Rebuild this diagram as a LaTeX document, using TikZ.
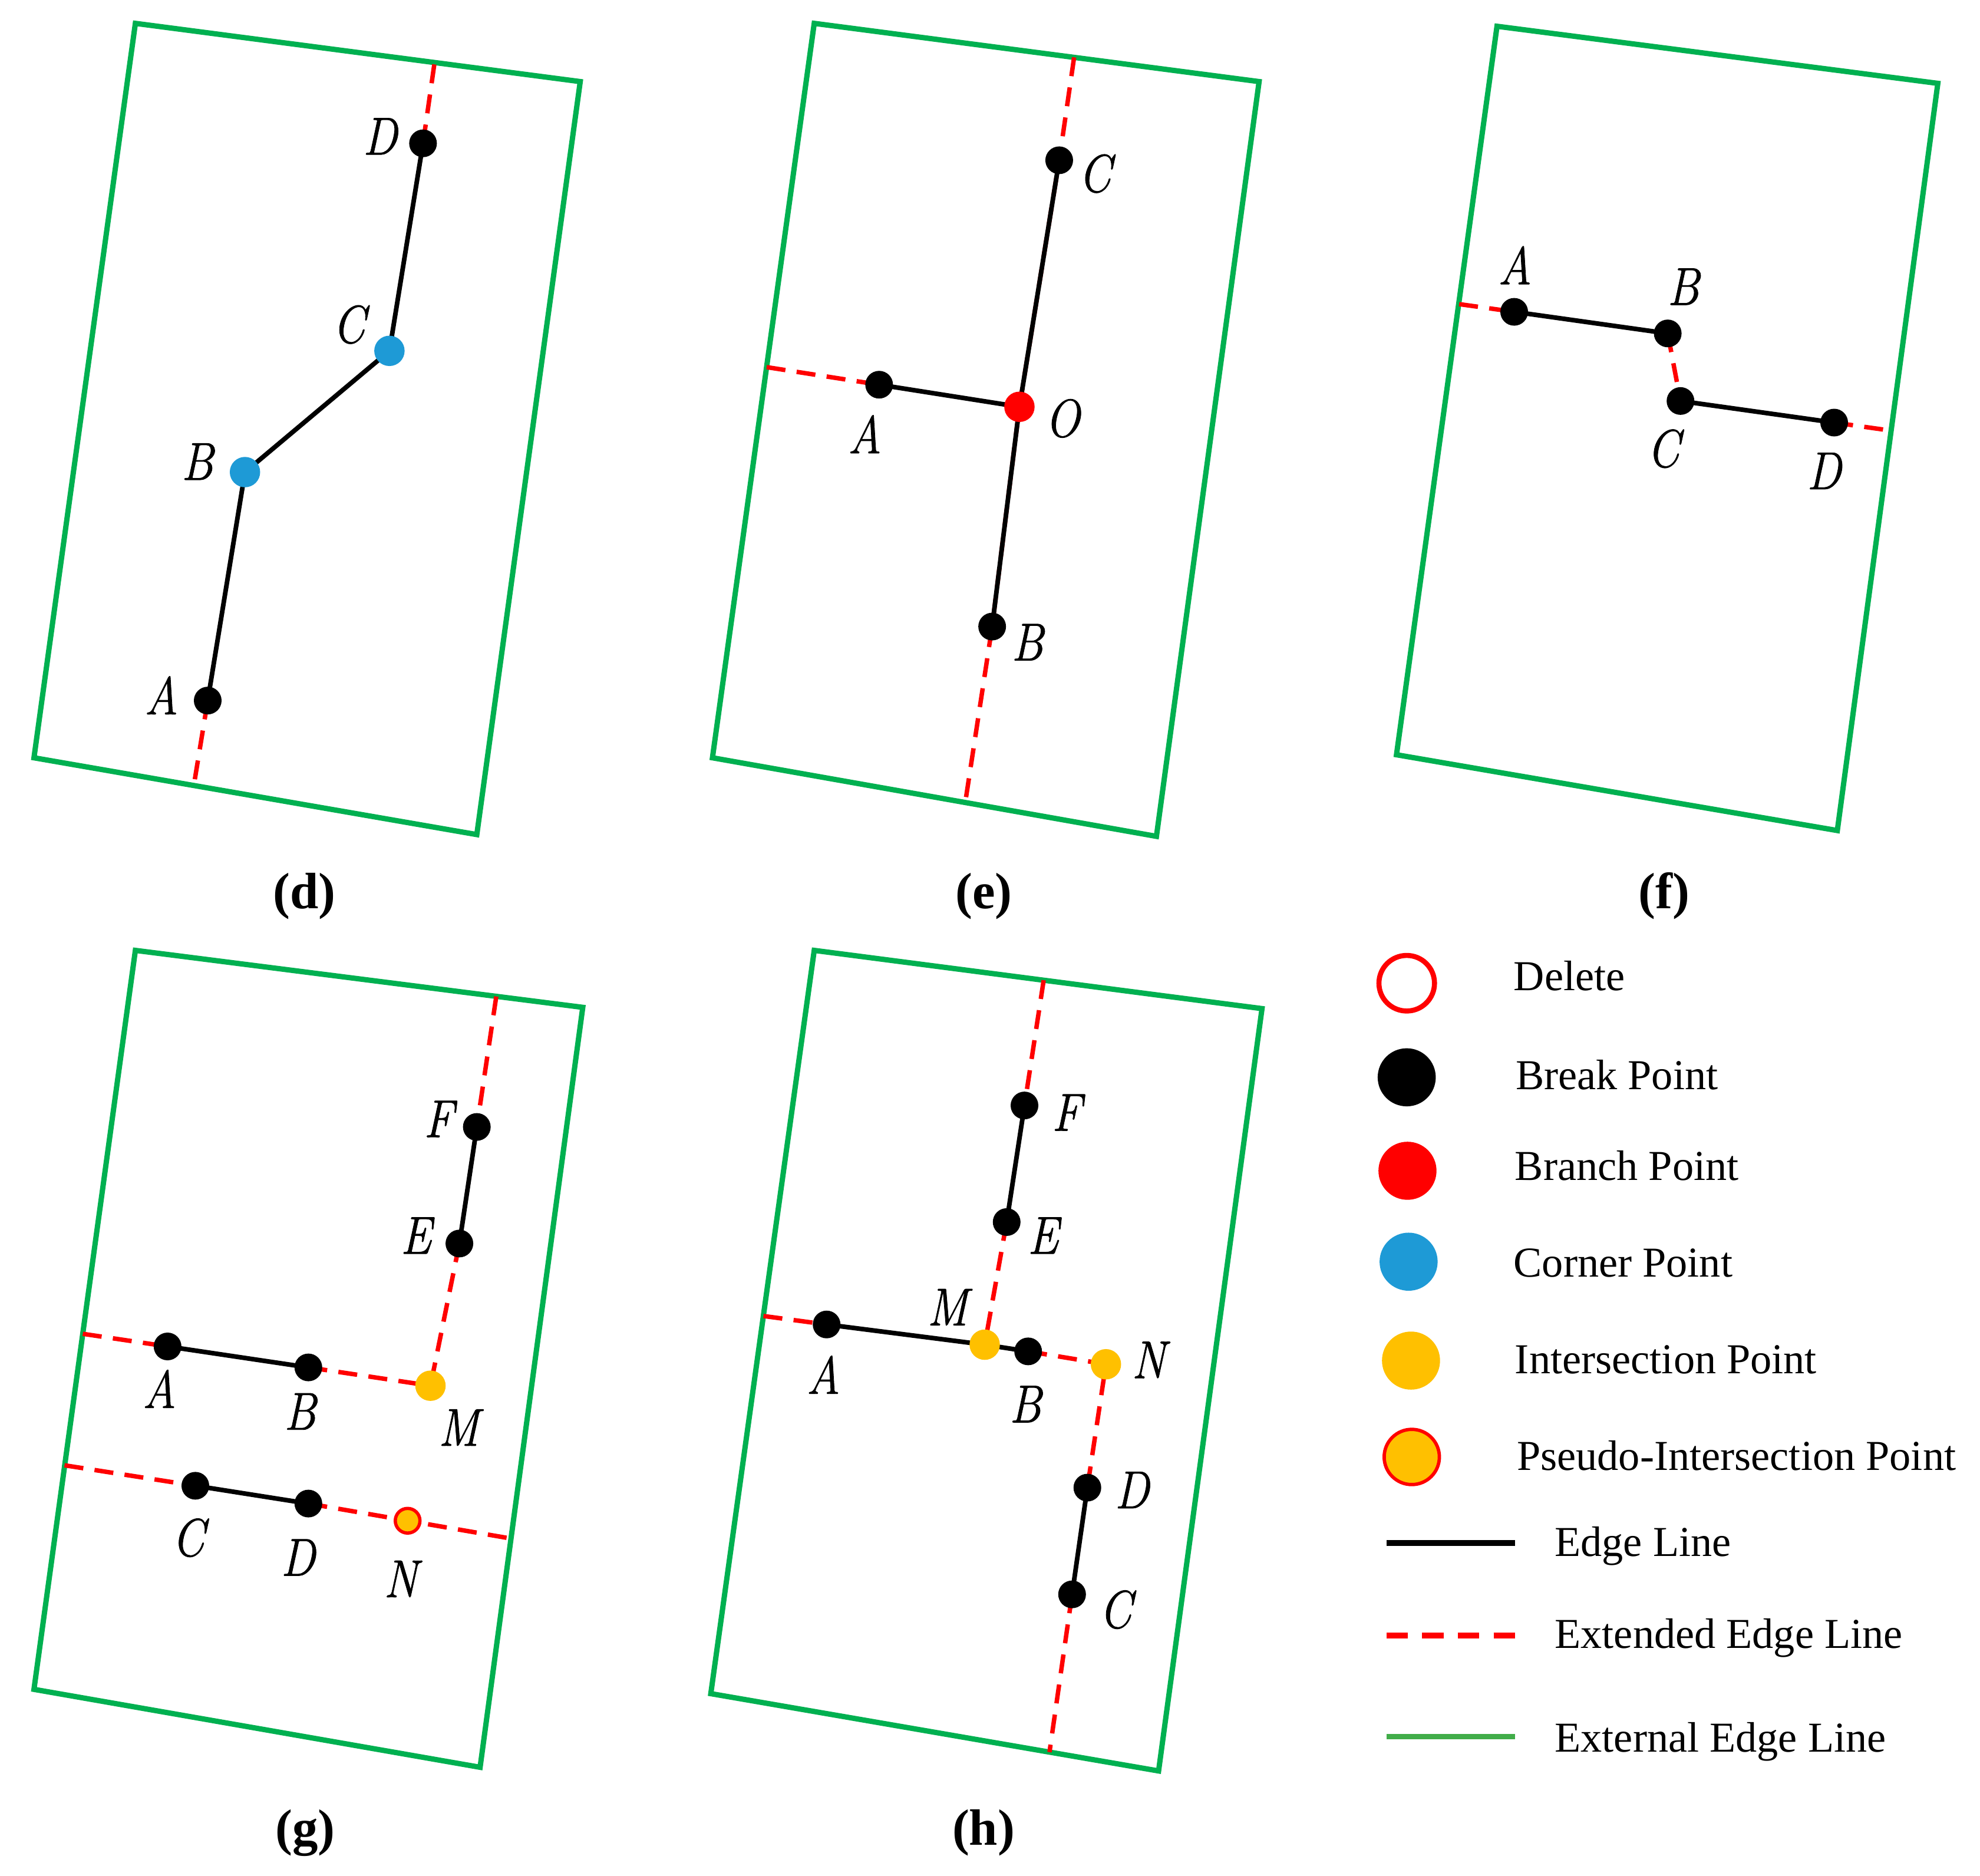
\documentclass[tikz,border=0pt]{standalone}
\usepackage{fontspec}
\setmainfont{Liberation Serif}
\newfontfamily\lblfam[FakeBold=1]{Latin Modern Roman}
\definecolor{fgreen}{HTML}{00B050}
\definecolor{lgreen}{HTML}{41AD49}
\definecolor{cblue}{HTML}{1E9AD6}
\definecolor{cyellow}{HTML}{FFC000}
\newcommand\mylbl[1]{\scalebox{0.87}[1]{\lblfam\itshape #1}}
\tikzset{
  frame/.style={draw=fgreen, line width=3pt, line join=miter},
  edgeln/.style={draw=black, line width=2.6pt},
  extln/.style={draw=red, line width=2.5pt, dash pattern=on 10.7pt off 6.4pt},
  brk/.style={circle, fill=black, minimum size=15.6pt, inner sep=0pt},
  brn/.style={circle, fill=red, minimum size=17.1pt, inner sep=0pt},
  crn/.style={circle, fill=cblue, minimum size=17.1pt, inner sep=0pt},
  isec/.style={circle, fill=cyellow, minimum size=17.1pt, inner sep=0pt},
  psd/.style={circle, fill=cyellow, draw=red, line width=1.85pt, minimum size=13.9pt, inner sep=0pt},
  lbl/.style={inner sep=0pt, font=\fontsize{30}{30}\selectfont},
  captxt/.style={inner sep=0pt, anchor=base, font=\fontsize{28.8}{30}\selectfont\bfseries},
  legtxt/.style={inner sep=0pt, anchor=base west, font=\fontsize{24}{28}\selectfont},
  legdot/.style={circle, minimum size=32.7pt, inner sep=0pt},
  legln/.style={line width=3.1pt},
}
\begin{document}
\begin{tikzpicture}[x=0.25mm,y=-0.25mm]
\useasboundingbox (0,0) rectangle (1568,1485);

% ================= panel (d) =================
\coordinate (dTL) at (107.2,18.5);
\coordinate (dTR) at (459.5,64.6);
\coordinate (dBR) at (377.6,660.8);
\coordinate (dBL) at (26.9,600);
\coordinate (dA) at (164.5,554.7);
\coordinate (dB) at (194,373.8);
\coordinate (dC) at (308.4,277.8);
\coordinate (dD) at (335,113.5);
\coordinate (dtop) at (344.1,49.8);
\coordinate (dbot) at (153.4,622.5);
\draw[frame] (dTL) -- (dTR) -- (dBR) -- (dBL) -- cycle;
\draw[extln] (dD) -- (dtop);
\draw[extln] (dA) -- (dbot);
\draw[edgeln] (dA) -- (dB) -- (dC) -- (dD);
\node[brk] (dAn) at (dA) {};
\node[crn] (dBn) at (dB) {};
\node[crn] (dCn) at (dC) {};
\node[brk] (dDn) at (dD) {};
\node[lbl] (dAl) at (127.8,550.5) {\mylbl{A}};
\node[lbl] (dBl) at (156.3,365.5) {\mylbl{B}};
\node[lbl] (dCl) at (276.3,257) {\mylbl{C}};
\node[lbl] (dDl) at (301,108) {\mylbl{D}};
\node[captxt] (dcap) at (241,719.4) {(d)};

% ================= panel (e) =================
\coordinate (eTL) at (644.8,18.5);
\coordinate (eTR) at (997.1,64.6);
\coordinate (eBR) at (915.8,662.2);
\coordinate (eBL) at (564.2,600);
\coordinate (eC) at (838.8,126.9);
\coordinate (eO) at (807.3,322.1);
\coordinate (eA) at (696.2,304.6);
\coordinate (eB) at (785.7,496.1);
\coordinate (etop) at (850.6,45.4);
\coordinate (eleft) at (607.1,290.7);
\coordinate (ebot) at (764.4,635.4);
\draw[frame] (eTL) -- (eTR) -- (eBR) -- (eBL) -- cycle;
\draw[extln] (etop) -- (eC) -- (eO) -- (eB) -- (ebot);
\draw[extln] (eleft) -- (eA);
\draw[edgeln] (eC) -- (eO) -- (eB);
\draw[edgeln] (eA) -- (eO);
\node[brk] (eCn) at (eC) {};
\node[brn] (eOn) at (eO) {};
\node[brk] (eAn) at (eA) {};
\node[brk] (eBn) at (eB) {};
\node[lbl] (eCl) at (867,137.5) {\mylbl{C}};
\node[lbl] (eOl) at (841.4,331.3) {\mylbl{O}};
\node[lbl] (eAl) at (684.8,343.8) {\mylbl{A}};
\node[lbl] (eBl) at (813.6,508.5) {\mylbl{B}};
\node[captxt] (ecap) at (779,719.4) {(e)};

% ================= panel (f) =================
\coordinate (fTL) at (1185.5,20.8);
\coordinate (fTR) at (1534.6,66);
\coordinate (fBR) at (1455,657.6);
\coordinate (fBL) at (1105.9,597.6);
\coordinate (fA) at (1199.1,246.9);
\coordinate (fB) at (1320.7,264);
\coordinate (fC) at (1330.8,317.5);
\coordinate (fD) at (1452.5,334.6);
\coordinate (fleft) at (1155.5,240.8);
\coordinate (fright) at (1497.7,341);
\draw[frame] (fTL) -- (fTR) -- (fBR) -- (fBL) -- cycle;
\draw[extln] (fleft) -- (fA);
\draw[extln] (fB) -- (fC);
\draw[extln] (fD) -- (fright);
\draw[edgeln] (fA) -- (fB);
\draw[edgeln] (fC) -- (fD);
\node[brk] (fAn) at (fA) {};
\node[brk] (fBn) at (fB) {};
\node[brk] (fCn) at (fC) {};
\node[brk] (fDn) at (fD) {};
\node[lbl] (fAl) at (1199.7,210) {\mylbl{A}};
\node[lbl] (fBl) at (1333,227) {\mylbl{B}};
\node[lbl] (fCl) at (1317.2,355.3) {\mylbl{C}};
\node[lbl] (fDl) at (1444.5,372.9) {\mylbl{D}};
\node[captxt] (fcap) at (1318,719.4) {(f)};

% ================= panel (g) =================
\coordinate (gTL) at (107.2,752.5);
\coordinate (gTR) at (461.5,797.6);
\coordinate (gBR) at (380.2,1399.3);
\coordinate (gBL) at (26.9,1337.6);
\coordinate (gF) at (377.6,892.3);
\coordinate (gE) at (363.8,984.6);
\coordinate (gA) at (132.7,1066.1);
\coordinate (gB) at (244.2,1082.7);
\coordinate (gM) at (340.9,1097.2);
\coordinate (gC) at (154.7,1176.4);
\coordinate (gD) at (244.2,1190.5);
\coordinate (gN) at (322.8,1204.1);
\coordinate (gtop) at (393,789);
\coordinate (gAleft) at (65.6,1056.1);
\coordinate (gCleft) at (51.1,1160.2);
\coordinate (gright) at (404.7,1218.2);
\draw[frame] (gTL) -- (gTR) -- (gBR) -- (gBL) -- cycle;
\draw[extln] (gtop) -- (gF);
\draw[extln] (gE) -- (gM);
\draw[extln] (gAleft) -- (gA);
\draw[extln] (gB) -- (gM);
\draw[extln] (gCleft) -- (gC);
\draw[extln] (gD) -- (gN) -- (gright);
\draw[edgeln] (gF) -- (gE);
\draw[edgeln] (gA) -- (gB);
\draw[edgeln] (gC) -- (gD);
\node[brk] (gFn) at (gF) {};
\node[brk] (gEn) at (gE) {};
\node[brk] (gAn) at (gA) {};
\node[brk] (gBn) at (gB) {};
\node[isec] (gMn) at (gM) {};
\node[brk] (gCn) at (gC) {};
\node[brk] (gDn) at (gD) {};
\node[psd] (gNn) at (gN) {};
\node[lbl] (gFl) at (347.4,886) {\mylbl{F}};
\node[lbl] (gEl) at (329.4,978.3) {\mylbl{E}};
\node[lbl] (gAl) at (126.2,1099.7) {\mylbl{A}};
\node[lbl] (gBl) at (237.6,1117.6) {\mylbl{B}};
\node[lbl] (gMl) at (363.2,1130.3) {\mylbl{M}};
\node[lbl] (gCl) at (149.1,1217.6) {\mylbl{C}};
\node[lbl] (gDl) at (236,1233.2) {\mylbl{D}};
\node[lbl] (gNl) at (317.3,1250.2) {\mylbl{N}};
\node[captxt] (gcap) at (241.7,1461) {(g)};

% ================= panel (h) =================
\coordinate (hTL) at (644.8,752.5);
\coordinate (hTR) at (999.4,798.6);
\coordinate (hBR) at (917.5,1402.2);
\coordinate (hBL) at (562.9,1341);
\coordinate (hF) at (811.3,875.3);
\coordinate (hE) at (797.2,967.6);
\coordinate (hA) at (654.6,1048.7);
\coordinate (hM) at (779.8,1064.7);
\coordinate (hB) at (814.2,1070);
\coordinate (hN) at (875.8,1080.2);
\coordinate (hD) at (861.1,1177.9);
\coordinate (hC) at (849,1262.4);
\coordinate (htop) at (826.5,776.1);
\coordinate (hAleft) at (604.6,1042);
\coordinate (hbot) at (831.1,1387.3);
\draw[frame] (hTL) -- (hTR) -- (hBR) -- (hBL) -- cycle;
\draw[extln] (htop) -- (hF);
\draw[extln] (hE) -- (hM);
\draw[extln] (hAleft) -- (hA);
\draw[extln] (hB) -- (hN) -- (hD);
\draw[extln] (hC) -- (hbot);
\draw[edgeln] (hF) -- (hE);
\draw[edgeln] (hA) -- (hM) -- (hB);
\draw[edgeln] (hD) -- (hC);
\node[brk] (hFn) at (hF) {};
\node[brk] (hEn) at (hE) {};
\node[brk] (hAn) at (hA) {};
\node[isec] (hMn) at (hM) {};
\node[brk] (hBn) at (hB) {};
\node[isec] (hNn) at (hN) {};
\node[brk] (hDn) at (hD) {};
\node[brk] (hCn) at (hC) {};
\node[lbl] (hFl) at (844.7,880.9) {\mylbl{F}};
\node[lbl] (hEl) at (826,978.3) {\mylbl{E}};
\node[lbl] (hMl) at (750.3,1035) {\mylbl{M}};
\node[lbl] (hAl) at (652,1088.5) {\mylbl{A}};
\node[lbl] (hBl) at (812,1111.8) {\mylbl{B}};
\node[lbl] (hNl) at (909.6,1076.8) {\mylbl{N}};
\node[lbl] (hDl) at (896.4,1179.8) {\mylbl{D}};
\node[lbl] (hCl) at (883.4,1274.5) {\mylbl{C}};
\node[captxt] (hcap) at (778.9,1461) {(h)};

% ================= legend =================
\node[legdot, draw=red, line width=2.85pt, minimum size=31.3pt] (kdel) at (1114,778.5) {};
\node[legdot, fill=black] (kbrk) at (1114,853) {};
\node[legdot, fill=red] (kbrn) at (1114.6,927) {};
\node[legdot, fill=cblue] (kcrn) at (1115.5,999) {};
\node[legdot, fill=cyellow] (kisec) at (1117.4,1077.3) {};
\node[legdot, fill=cyellow, draw=red, line width=1.9pt, minimum size=31.1pt] (kpsd) at (1118,1153.6) {};
\node[legtxt] (tdel) at (1198.5,784) {Delete};
\node[legtxt] (tbrk) at (1200,862.7) {Break Point};
\node[legtxt] (tbrn) at (1199.5,934.5) {Branch Point};
\node[legtxt] (tcrn) at (1198.4,1010.8) {Corner Point};
\node[legtxt] (tisec) at (1199.5,1087.5) {Intersection Point};
\node[legtxt] (tpsd) at (1201,1164) {Pseudo-Intersection Point};
\coordinate (ke1) at (1098,1221.7);
\coordinate (ke2) at (1200,1221.7);
\coordinate (kx1) at (1098,1295);
\coordinate (kx2) at (1200,1295);
\coordinate (kg1) at (1098,1375);
\coordinate (kg2) at (1200,1375);
\draw[legln, draw=black] (ke1) -- (ke2);
\draw[legln, draw=red, dash pattern=on 12.1pt off 8pt] (kx1) -- (kx2);
\draw[legln, draw=lgreen] (kg1) -- (kg2);
\node[legtxt] (tedge) at (1231,1232) {Edge Line};
\node[legtxt] (text) at (1231,1305) {Extended Edge Line};
\node[legtxt] (tgrn) at (1231,1387) {External Edge Line};
\end{tikzpicture}
\end{document}
